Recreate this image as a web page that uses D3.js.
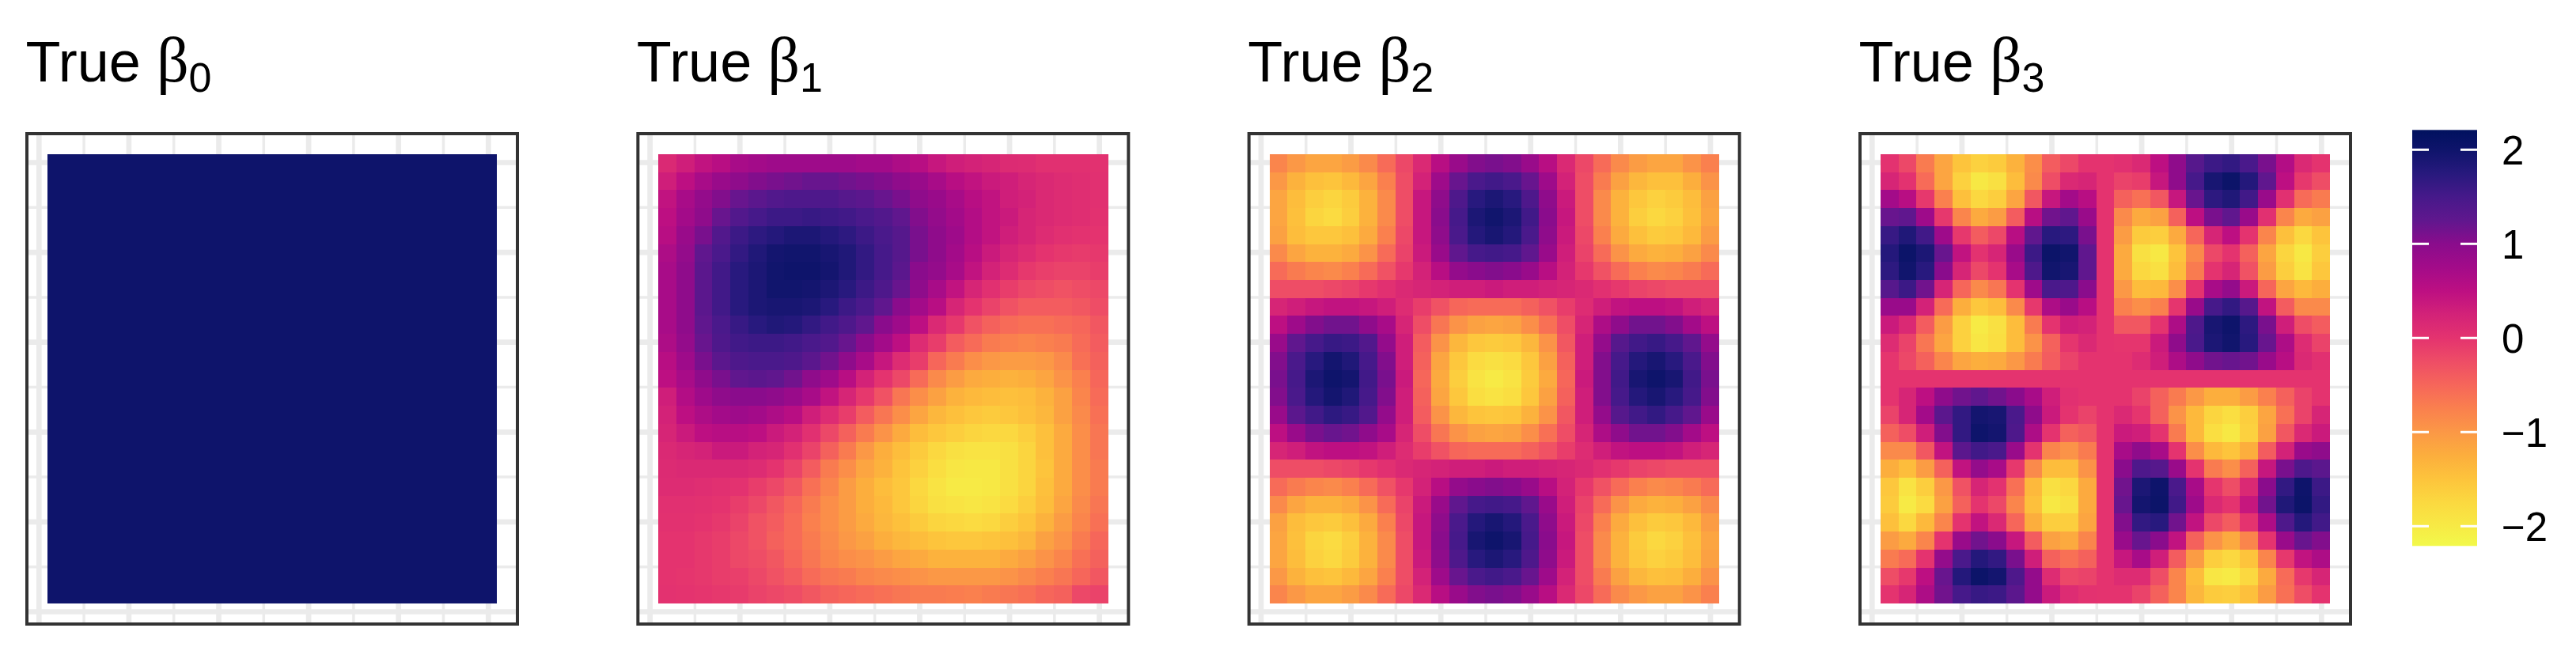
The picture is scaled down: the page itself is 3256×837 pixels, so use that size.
<!DOCTYPE html>
<html><head><meta charset="utf-8">
<script src="https://cdn.jsdelivr.net/npm/d3@7"></script>
<style>html,body{margin:0;padding:0;background:#fff}svg{display:block}</style>
</head><body><svg id="c" width="3256" height="837"></svg>
<script>
const panelTitles = ["0","1","2","3"];
const legendTicks = [2,1,0,-1,-2];
const gridMajor = [0,0.2,0.4,0.6,0.8,1];
const gridMinor = [0.1,0.3,0.5,0.7,0.9];
const colorValues = [2.21,2,1.75,1.5,1.25,1,0.75,0.5,0.25,0,-0.25,-0.5,-0.75,-1,-1.25,-1.5,-1.75,-2,-2.21];
const colorHex = ["#00115e","#0e146b","#27197d","#46198a","#60178e","#8a0c8c","#a30b89","#bd0f82","#d32278","#e4336f","#ee4d66","#f6665a","#fa804e","#fb9846","#fcae3d","#fdc43c","#fbd940","#f7ea45","#f2f94a"];

const beta0 = [
[2,2,2,2,2,2,2,2,2,2,2,2,2,2,2,2,2,2,2,2,2,2,2,2,2],
[2,2,2,2,2,2,2,2,2,2,2,2,2,2,2,2,2,2,2,2,2,2,2,2,2],
[2,2,2,2,2,2,2,2,2,2,2,2,2,2,2,2,2,2,2,2,2,2,2,2,2],
[2,2,2,2,2,2,2,2,2,2,2,2,2,2,2,2,2,2,2,2,2,2,2,2,2],
[2,2,2,2,2,2,2,2,2,2,2,2,2,2,2,2,2,2,2,2,2,2,2,2,2],
[2,2,2,2,2,2,2,2,2,2,2,2,2,2,2,2,2,2,2,2,2,2,2,2,2],
[2,2,2,2,2,2,2,2,2,2,2,2,2,2,2,2,2,2,2,2,2,2,2,2,2],
[2,2,2,2,2,2,2,2,2,2,2,2,2,2,2,2,2,2,2,2,2,2,2,2,2],
[2,2,2,2,2,2,2,2,2,2,2,2,2,2,2,2,2,2,2,2,2,2,2,2,2],
[2,2,2,2,2,2,2,2,2,2,2,2,2,2,2,2,2,2,2,2,2,2,2,2,2],
[2,2,2,2,2,2,2,2,2,2,2,2,2,2,2,2,2,2,2,2,2,2,2,2,2],
[2,2,2,2,2,2,2,2,2,2,2,2,2,2,2,2,2,2,2,2,2,2,2,2,2],
[2,2,2,2,2,2,2,2,2,2,2,2,2,2,2,2,2,2,2,2,2,2,2,2,2],
[2,2,2,2,2,2,2,2,2,2,2,2,2,2,2,2,2,2,2,2,2,2,2,2,2],
[2,2,2,2,2,2,2,2,2,2,2,2,2,2,2,2,2,2,2,2,2,2,2,2,2],
[2,2,2,2,2,2,2,2,2,2,2,2,2,2,2,2,2,2,2,2,2,2,2,2,2],
[2,2,2,2,2,2,2,2,2,2,2,2,2,2,2,2,2,2,2,2,2,2,2,2,2],
[2,2,2,2,2,2,2,2,2,2,2,2,2,2,2,2,2,2,2,2,2,2,2,2,2],
[2,2,2,2,2,2,2,2,2,2,2,2,2,2,2,2,2,2,2,2,2,2,2,2,2],
[2,2,2,2,2,2,2,2,2,2,2,2,2,2,2,2,2,2,2,2,2,2,2,2,2],
[2,2,2,2,2,2,2,2,2,2,2,2,2,2,2,2,2,2,2,2,2,2,2,2,2],
[2,2,2,2,2,2,2,2,2,2,2,2,2,2,2,2,2,2,2,2,2,2,2,2,2],
[2,2,2,2,2,2,2,2,2,2,2,2,2,2,2,2,2,2,2,2,2,2,2,2,2],
[2,2,2,2,2,2,2,2,2,2,2,2,2,2,2,2,2,2,2,2,2,2,2,2,2],
[2,2,2,2,2,2,2,2,2,2,2,2,2,2,2,2,2,2,2,2,2,2,2,2,2]
];

const beta1 = [
[.15,.3,.45,.55,.7,.75,.8,.8,.8,.8,.8,.75,.75,.65,.55,.4,.3,.25,.2,.12,.1,.05,.05,.05,.03],
[.3,.5,.7,.85,.95,1.05,1.1,1.15,1.2,1.2,1.15,1.1,1.05,.95,.85,.7,.55,.45,.35,.3,.2,.15,.1,.08,.05],
[.45,.7,.9,1.05,1.2,1.3,1.38,1.42,1.42,1.42,1.35,1.3,1.2,1.1,.95,.85,.7,.55,.45,.3,.25,.15,.1,.08,.05],
[.5,.75,.95,1.2,1.38,1.5,1.58,1.58,1.62,1.58,1.54,1.46,1.38,1.25,1.05,.9,.75,.6,.45,.35,.2,.15,.1,.08,.03],
[.55,.85,1.1,1.38,1.58,1.7,1.78,1.86,1.86,1.78,1.7,1.58,1.46,1.35,1.1,.95,.8,.6,.45,.3,.2,.1,.05,.02,0],
[.65,.9,1.25,1.46,1.66,1.82,1.94,1.97,1.97,1.9,1.82,1.66,1.5,1.35,1.1,.95,.75,.55,.35,.2,.1,0,-.05,-.08,-.05],
[.7,.95,1.3,1.54,1.74,1.86,1.97,2,2,1.94,1.82,1.66,1.5,1.3,1,.9,.7,.45,.25,.1,-.05,-.12,-.15,-.15,-.1],
[.7,.95,1.3,1.54,1.74,1.86,1.97,1.97,1.94,1.86,1.74,1.58,1.42,1.2,.95,.7,.45,.2,.05,-.1,-.2,-.25,-.3,-.25,-.2],
[.7,.95,1.3,1.54,1.74,1.86,1.9,1.9,1.86,1.74,1.58,1.46,1.25,1,.75,.55,.2,0,-.15,-.3,-.4,-.4,-.4,-.35,-.25],
[.7,.95,1.25,1.46,1.62,1.74,1.82,1.78,1.66,1.54,1.42,1.25,1,.8,.5,.15,-.05,-.3,-.45,-.55,-.6,-.6,-.55,-.5,-.35],
[.65,.9,1.2,1.42,1.54,1.58,1.58,1.54,1.46,1.38,1.2,1,.75,.5,.1,-.1,-.4,-.55,-.7,-.75,-.8,-.75,-.7,-.55,-.4],
[.55,.8,1.1,1.3,1.42,1.46,1.46,1.42,1.3,1.15,.95,.7,.4,.1,-.1,-.5,-.7,-.9,-1,-1.05,-1.05,-1,-.85,-.6,-.45],
[.5,.7,.95,1.1,1.25,1.3,1.25,1.15,.95,.8,.55,.25,0,-.2,-.55,-.85,-1.05,-1.2,-1.25,-1.3,-1.25,-1.15,-.95,-.75,-.5],
[.3,.6,.8,.95,1,1,.95,.85,.7,.45,.2,-.05,-.3,-.65,-.9,-1.1,-1.3,-1.38,-1.42,-1.46,-1.42,-1.3,-1.1,-.8,-.55],
[.25,.5,.65,.75,.8,.75,.65,.55,.3,.1,-.1,-.4,-.65,-.9,-1.15,-1.35,-1.46,-1.54,-1.58,-1.54,-1.46,-1.35,-1.1,-.85,-.6],
[.2,.35,.5,.55,.55,.5,.35,.25,.05,-.2,-.45,-.7,-.95,-1.2,-1.42,-1.54,-1.62,-1.7,-1.74,-1.74,-1.62,-1.46,-1.2,-.9,-.65],
[.15,.2,.25,.35,.35,.25,.2,.05,-.15,-.45,-.7,-1,-1.25,-1.42,-1.58,-1.74,-1.86,-1.9,-1.9,-1.86,-1.7,-1.46,-1.2,-.9,-.65],
[.12,.15,.15,.15,.15,.1,0,-.15,-.4,-.7,-.9,-1.15,-1.3,-1.5,-1.66,-1.82,-1.94,-1.97,-1.97,-1.86,-1.7,-1.5,-1.2,-.9,-.7],
[.1,.1,.08,.05,.02,-.1,-.2,-.35,-.6,-.8,-1.05,-1.25,-1.42,-1.54,-1.74,-1.9,-2,-2,-1.97,-1.86,-1.7,-1.46,-1.2,-.9,-.7],
[.05,.05,.03,0,-.1,-.2,-.35,-.5,-.7,-.9,-1.05,-1.25,-1.38,-1.54,-1.7,-1.86,-1.9,-1.94,-1.9,-1.78,-1.62,-1.42,-1.15,-.85,-.65],
[.03,.03,0,-.05,-.15,-.3,-.4,-.55,-.75,-.9,-1.05,-1.2,-1.35,-1.46,-1.58,-1.7,-1.74,-1.78,-1.74,-1.62,-1.5,-1.3,-1.05,-.8,-.6],
[0,0,-.05,-.1,-.2,-.3,-.45,-.55,-.7,-.85,-1,-1.1,-1.25,-1.35,-1.42,-1.5,-1.54,-1.54,-1.5,-1.46,-1.35,-1.1,-.95,-.7,-.5],
[0,0,-.05,-.1,-.2,-.25,-.35,-.5,-.65,-.8,-.9,-.95,-1.05,-1.15,-1.2,-1.3,-1.3,-1.3,-1.3,-1.2,-1.1,-.95,-.8,-.6,-.45],
[0,-.02,-.05,-.1,-.12,-.2,-.3,-.4,-.55,-.65,-.7,-.8,-.85,-.9,-.95,-1,-1,-1,-1,-.95,-.85,-.75,-.65,-.5,-.35],
[.02,0,-.02,-.05,-.08,-.15,-.2,-.25,-.35,-.45,-.5,-.55,-.6,-.65,-.7,-.7,-.72,-.75,-.7,-.65,-.6,-.5,-.45,-.2,-.15]
];

const beta2 = [
[-.8,-1,-1.15,-1.15,-1.05,-.85,-.55,-.2,.15,.55,.85,1.05,1.1,1.05,.85,.55,.15,-.2,-.55,-.85,-1.05,-1.15,-1.15,-.95,-.75],
[-1,-1.3,-1.46,-1.5,-1.38,-1.15,-.75,-.25,.25,.8,1.2,1.46,1.54,1.46,1.2,.8,.25,-.25,-.7,-1.1,-1.35,-1.46,-1.46,-1.25,-.95],
[-1.15,-1.42,-1.62,-1.7,-1.58,-1.3,-.85,-.25,.4,.95,1.42,1.74,1.86,1.74,1.42,.95,.35,-.25,-.85,-1.3,-1.54,-1.66,-1.58,-1.42,-1.1],
[-1.15,-1.46,-1.7,-1.78,-1.62,-1.3,-.85,-.25,.4,1,1.5,1.86,1.97,1.86,1.54,1,.4,-.25,-.85,-1.3,-1.62,-1.74,-1.66,-1.46,-1.15],
[-1.1,-1.42,-1.54,-1.54,-1.46,-1.2,-.75,-.2,.4,.95,1.46,1.78,1.9,1.78,1.46,.95,.35,-.2,-.75,-1.2,-1.46,-1.58,-1.54,-1.38,-1.05],
[-.85,-1.15,-1.3,-1.3,-1.2,-.95,-.55,-.15,.35,.85,1.25,1.5,1.54,1.5,1.25,.85,.3,-.15,-.55,-.95,-1.2,-1.3,-1.25,-1.1,-.85],
[-.55,-.7,-.8,-.85,-.75,-.55,-.3,-.05,.25,.55,.9,1,1.05,1,.85,.55,.25,-.05,-.3,-.55,-.75,-.85,-.8,-.7,-.55],
[-.25,-.25,-.25,-.2,-.15,-.05,.05,.15,.2,.25,.3,.3,.35,.3,.3,.25,.2,.15,.05,-.05,-.15,-.2,-.25,-.25,-.25],
[.2,.3,.4,.45,.45,.4,.3,.1,-.1,-.3,-.5,-.55,-.55,-.55,-.45,-.3,-.1,.1,.3,.45,.5,.5,.45,.3,.2],
[.5,.8,1.05,1.15,1.15,.95,.7,.2,-.25,-.65,-.95,-1.1,-1.15,-1.1,-.9,-.6,-.25,.2,.65,.95,1.15,1.15,1.05,.75,.5],
[.85,1.25,1.5,1.62,1.58,1.38,.9,.3,-.4,-.95,-1.35,-1.54,-1.58,-1.54,-1.35,-.95,-.35,.3,.9,1.35,1.54,1.62,1.5,1.25,.9],
[1.05,1.46,1.74,1.94,1.82,1.5,1.05,.3,-.45,-1.15,-1.54,-1.78,-1.86,-1.78,-1.54,-1.1,-.45,.3,1.05,1.5,1.78,1.9,1.74,1.46,1.05],
[1.1,1.5,1.86,2,1.94,1.54,1.1,.35,-.5,-1.2,-1.62,-1.9,-2,-1.9,-1.58,-1.2,-.5,.35,1.05,1.54,1.9,2,1.9,1.54,1.1],
[1.05,1.46,1.78,1.94,1.82,1.5,1.05,.3,-.45,-1.15,-1.54,-1.82,-1.9,-1.82,-1.54,-1.1,-.45,.3,1.05,1.5,1.78,1.9,1.74,1.5,1.05],
[.85,1.3,1.54,1.7,1.62,1.38,.9,.3,-.4,-.95,-1.35,-1.5,-1.54,-1.5,-1.3,-.95,-.35,.3,.9,1.35,1.54,1.66,1.5,1.25,.85],
[.5,.85,1.1,1.2,1.15,.95,.7,.2,-.25,-.65,-.95,-1.1,-1.15,-1.1,-.9,-.6,-.25,.2,.65,.95,1.15,1.15,1.05,.75,.5],
[.2,.3,.45,.5,.5,.45,.3,.1,-.1,-.3,-.5,-.55,-.55,-.55,-.45,-.3,-.1,.1,.3,.45,.5,.5,.45,.3,.2],
[-.25,-.25,-.25,-.2,-.15,-.05,.05,.15,.2,.25,.3,.3,.35,.3,.3,.25,.2,.15,.05,-.05,-.15,-.2,-.25,-.25,-.25],
[-.55,-.7,-.8,-.85,-.75,-.55,-.3,-.05,.25,.55,.9,1,1.05,1,.85,.55,.25,-.05,-.3,-.55,-.75,-.85,-.8,-.7,-.55],
[-.85,-1.15,-1.3,-1.3,-1.2,-.95,-.55,-.15,.35,.85,1.25,1.5,1.54,1.5,1.25,.85,.3,-.15,-.55,-.95,-1.2,-1.3,-1.25,-1.1,-.85],
[-1.1,-1.42,-1.54,-1.58,-1.46,-1.2,-.75,-.2,.4,.95,1.46,1.78,1.9,1.78,1.46,.95,.35,-.2,-.75,-1.2,-1.46,-1.58,-1.54,-1.38,-1.05],
[-1.15,-1.46,-1.7,-1.78,-1.62,-1.3,-.85,-.25,.4,1,1.5,1.9,2,1.9,1.5,1,.4,-.25,-.85,-1.3,-1.58,-1.74,-1.66,-1.46,-1.15],
[-1.15,-1.42,-1.66,-1.74,-1.58,-1.3,-.85,-.25,.35,.95,1.42,1.74,1.86,1.74,1.42,.95,.35,-.25,-.85,-1.3,-1.54,-1.66,-1.58,-1.42,-1.1],
[-1,-1.3,-1.46,-1.5,-1.38,-1.15,-.75,-.25,.25,.8,1.2,1.46,1.54,1.46,1.2,.8,.25,-.25,-.7,-1.1,-1.35,-1.46,-1.42,-1.25,-.95],
[-.8,-1,-1.15,-1.15,-1.05,-.85,-.55,-.2,.15,.55,.85,1.05,1.1,1.05,.85,.55,.15,-.2,-.55,-.85,-1,-1.1,-1.1,-.95,-.75]
];

const beta3 = [
[.02,-.2,-.7,-1.15,-1.5,-1.66,-1.58,-1.3,-.9,-.4,-.2,0,0,.05,.15,.5,.95,1.35,1.58,1.66,1.46,1.1,.6,.15,0],
[.2,.02,-.55,-1.15,-1.66,-1.97,-1.86,-1.42,-.85,-.25,.15,.2,0,-.15,-.1,.4,.95,1.5,1.9,2.03,1.78,1.25,.5,-.05,-.25],
[.75,.55,-.05,-.75,-1.46,-1.74,-1.62,-1.15,-.35,.4,.75,.55,0,-.45,-.6,-.35,.4,1.2,1.7,1.82,1.54,.85,.05,-.55,-.7],
[1.2,1.25,.8,-.05,-.8,-1.2,-1.05,-.4,.55,1.15,1.25,.85,0,-.85,-1.2,-1.1,-.45,.5,1.1,1.25,.85,.05,-.8,-1.2,-1.1],
[1.62,1.82,1.54,.8,-.05,-.4,-.2,.55,1.25,1.74,1.7,1.1,0,-1.05,-1.58,-1.62,-1.2,-.5,.2,.5,0,-.8,-1.46,-1.74,-1.5],
[1.78,2.03,1.86,1.2,.45,.02,.2,.85,1.58,2.03,1.97,1.25,0,-1.2,-1.86,-1.97,-1.5,-.85,-.2,0,-.45,-1.15,-1.7,-1.97,-1.62],
[1.7,1.97,1.74,1,.2,-.2,0,.7,1.42,1.97,1.9,1.25,0,-1.2,-1.74,-1.86,-1.42,-.7,0,.2,-.3,-1.05,-1.62,-1.9,-1.54],
[1.35,1.58,1.15,.2,-.5,-.85,-.65,0,.8,1.46,1.42,1,0,-1,-1.42,-1.38,-.9,0,.7,.9,.35,-.5,-1.15,-1.38,-1.25],
[.85,.85,.25,-.55,-1.25,-1.54,-1.42,-.85,-.05,.65,.85,.55,0,-.75,-.9,-.75,-.02,.85,1.5,1.66,1.35,.45,-.4,-.85,-.85],
[.35,.15,-.4,-1.05,-1.66,-2,-1.86,-1.42,-.7,0,.3,.25,0,-.35,-.35,0,.65,1.42,1.9,2,1.7,1.1,.3,-.25,-.4],
[.1,-.15,-.65,-1.15,-1.66,-1.94,-1.82,-1.42,-.95,-.45,-.02,.15,0,-.02,-.02,.35,.95,1.46,1.86,1.97,1.74,1.2,.65,.1,-.15],
[-.02,-.2,-.45,-.8,-1.15,-1.25,-1.2,-1,-.7,-.4,-.15,0,0,0,.1,.3,.65,.95,1.15,1.2,1.15,.85,.55,.15,.05],
[0,0,0,0,0,0,0,0,0,0,0,0,0,0,0,0,0,0,0,0,0,0,0,0,0],
[0,.2,.5,.95,1.15,1.25,1.15,1,.7,.3,.05,0,0,0,-.15,-.45,-.7,-1,-1.25,-1.25,-1.05,-.75,-.45,-.15,0],
[-.15,.2,.75,1.3,1.66,1.94,1.9,1.46,.95,.35,0,-.15,0,.15,-.02,-.45,-.95,-1.38,-1.7,-1.82,-1.62,-1.15,-.6,-.15,.2],
[-.45,-.25,.3,1.05,1.66,2,1.94,1.42,.65,0,-.45,-.35,0,.35,.3,0,-.7,-1.38,-1.82,-1.97,-1.66,-1.1,-.35,.15,.35],
[-.85,-.85,-.35,.45,1.3,1.54,1.46,.85,0,-.8,-.95,-.7,0,.7,.95,.7,0,-.9,-1.38,-1.5,-1.25,-.4,.25,.85,.95],
[-1.25,-1.42,-1.05,-.45,.45,.9,.7,-.05,-.85,-1.42,-1.42,-.95,0,1,1.42,1.35,.85,0,-.7,-.9,-.45,.4,1.1,1.42,1.3],
[-1.54,-1.9,-1.62,-1,-.3,.2,.02,-.6,-1.38,-1.86,-1.74,-1.2,0,1.15,1.86,2,1.46,.7,-.02,-.25,.15,1,1.66,2,1.58],
[-1.58,-2,-1.78,-1.1,-.45,0,-.2,-.8,-1.46,-1.97,-1.86,-1.2,0,1.2,1.94,2.03,1.54,.8,.15,0,.4,1.15,1.82,2.03,1.66],
[-1.46,-1.74,-1.38,-.8,0,.45,.15,-.5,-1.25,-1.62,-1.62,-1.15,0,1.05,1.66,1.74,1.15,.45,-.2,-.4,0,.65,1.42,1.78,1.54],
[-1.05,-1.2,-.8,0,.85,1.15,1,.4,-.4,-1.1,-1.2,-.8,0,.85,1.2,1,.45,-.45,-.95,-1.2,-.8,0,.85,1.2,1.05],
[-.7,-.55,0,.9,1.46,1.78,1.66,1.1,.3,-.45,-.6,-.45,0,.4,.7,.3,-.4,-1.05,-1.62,-1.74,-1.5,-.8,-.05,.45,.65],
[-.25,-.05,.5,1.2,1.78,2.03,1.94,1.42,.9,.1,-.2,-.15,0,.1,.1,-.25,-.8,-1.42,-1.94,-2,-1.74,-1.2,-.55,-.05,.2],
[0,.2,.65,1.15,1.5,1.62,1.58,1.3,.9,.35,.1,.02,0,0,-.15,-.45,-.8,-1.35,-1.58,-1.62,-1.46,-1.05,-.6,-.25,0]
];

const grids = [beta0, beta1, beta2, beta3];

const svg = d3.select("#c");
const color = d3.scaleLinear().domain(colorValues).range(colorHex).interpolate(d3.interpolateRgb);
const panelLeft = d3.scaleLinear().domain([0,3]).range([32,2349]);
const gridTone = "#ebebeb", frameTone = "#333333";
const sansFamily = "'Liberation Sans', Arial, sans-serif";

grids.forEach((grid, p) => {
  const L = panelLeft(p), T = 167;
  const g = svg.append("g").attr("class","panel");
  const gx = d3.scaleLinear().domain([0,1]).range([L+17.3, L+585.3]);
  const gy = d3.scaleLinear().domain([0,1]).range([773.5, 205.5]);
  const lines = [[gridMinor,3.5],[gridMajor,6.7]];
  lines.forEach(([vals,w]) => {
    g.selectAll(null).data(vals).join("line")
      .attr("x1",d=>gx(d)).attr("x2",d=>gx(d)).attr("y1",T+2).attr("y2",T+622)
      .attr("stroke",gridTone).attr("stroke-width",w);
    g.selectAll(null).data(vals).join("line")
      .attr("y1",d=>gy(d)).attr("y2",d=>gy(d)).attr("x1",L+2).attr("x2",L+622)
      .attr("stroke",gridTone).attr("stroke-width",w);
  });
  const x = d3.scaleBand().domain(d3.range(25)).range([L+28, L+596]);
  const y = d3.scaleBand().domain(d3.range(25)).range([195, 763]);
  const cells = grid.flatMap((row,r)=>row.map((v,c)=>({r,c,v})));
  g.selectAll("rect.cell").data(cells).join("rect").attr("class","cell")
    .attr("x",d=>x(d.c)).attr("y",d=>y(d.r))
    .attr("width",x.bandwidth()+0.4).attr("height",y.bandwidth()+0.4)
    .attr("shape-rendering","crispEdges")
    .attr("fill",d=>color(d.v));
  g.append("rect").attr("x",L+2).attr("y",T+2).attr("width",620).attr("height",620)
    .attr("fill","none").attr("stroke",frameTone).attr("stroke-width",4);
  const t = g.append("text").attr("x",L+0.5).attr("y",103).attr("font-family",sansFamily).attr("font-size",72).attr("fill","#000");
  t.append("tspan").text("True ");
  t.append("tspan").attr("font-family","'Liberation Serif', serif").attr("font-size",80).text("\u03B2");
  t.append("tspan").attr("font-size",52).attr("dy",13).text(panelTitles[p]);
});

// colour bar
const barX = 3049, barW = 82;
const ly = d3.scaleLinear().domain([2,-2]).range([189.3,665.3]);
const defs = svg.append("defs");
const lg = defs.append("linearGradient").attr("id","cb").attr("x1",0).attr("x2",0).attr("y1",0).attr("y2",1);
lg.selectAll("stop").data(colorValues).join("stop")
  .attr("offset",d=>(2.21-d)/4.42).attr("stop-color",d=>color(d));
svg.append("rect").attr("x",barX).attr("y",ly(2.21)).attr("width",barW).attr("height",ly(-2.21)-ly(2.21)).attr("fill","url(#cb)");
const tk = svg.append("g");
[[barX,barX+21],[barX+61,barX+82]].forEach(([a,b])=>{
  tk.selectAll(null).data(legendTicks).join("line")
    .attr("x1",a).attr("x2",b).attr("y1",d=>ly(d)).attr("y2",d=>ly(d))
    .attr("stroke","#fff").attr("stroke-width",3);
});
tk.selectAll("text").data(legendTicks).join("text")
  .attr("x",3162).attr("y",d=>ly(d)+18.7).attr("font-family",sansFamily).attr("font-size",51).attr("fill","#000")
  .text(d=>d<0?"\u2212"+Math.abs(d):String(d));
</script></body></html>
